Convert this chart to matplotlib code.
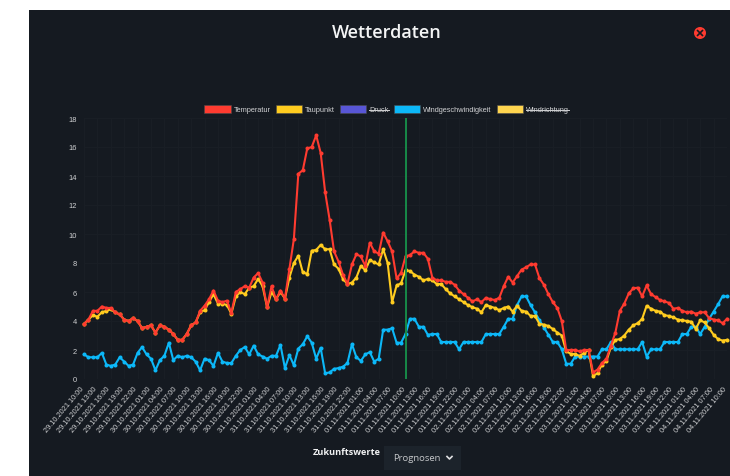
import matplotlib
matplotlib.use("Agg")
import matplotlib.pyplot as plt
from matplotlib.patches import Patch, Rectangle, Circle
from matplotlib.lines import Line2D
from matplotlib.transforms import ScaledTranslation
import pandas as pd

temperatur = [3.8,4.1,4.7,4.7,5.0,4.9,4.9,4.6,4.45,4.1,4.0,4.2,4.0,3.5,3.6,3.7,3.2,3.7,3.6,3.4,3.1,2.7,2.7,3.1,3.7,3.9,
 4.7,5.05,5.5,6.1,5.4,5.3,5.4,4.55,6.0,6.2,6.4,6.3,7.0,7.3,6.65,4.95,6.4,5.5,6.1,5.55,7.6,9.65,14.15,14.4,15.9,16.0,16.8,15.6,
 12.9,11.0,8.8,8.1,7.2,6.55,7.9,8.6,8.45,7.8,9.4,8.8,8.65,10.1,9.5,8.8,6.95,7.3,8.45,8.55,8.8,8.7,8.7,8.3,7.0,6.8,6.8,6.7,6.7,
 6.5,6.1,5.85,5.6,5.35,5.5,5.3,5.6,5.5,5.45,5.6,6.4,7.05,6.65,7.1,7.55,7.7,7.9,7.9,6.95,6.5,5.85,5.3,4.9,4.0,2.0,2.0,2.0,1.9,2.0,2.0,
 0.45,0.65,1.1,1.4,2.3,3.2,4.7,5.2,5.9,6.25,6.3,5.7,6.45,5.85,5.65,5.45,5.35,5.25,4.85,4.9,4.7,4.6,4.65,4.5,4.6,4.6,4.2,4.1,4.05,3.85,4.15]
taupunkt = [3.8,4.1,4.4,4.3,4.6,4.7,4.8,4.6,4.45,4.1,4.0,4.2,4.0,3.5,3.6,3.7,3.2,3.7,3.6,3.4,3.1,2.7,2.7,3.1,3.7,3.9,
 4.6,4.75,5.3,5.85,5.2,5.2,5.1,4.5,5.7,6.0,5.85,6.3,6.4,6.9,6.4,4.95,6.0,5.5,6.0,5.55,7.0,8.0,8.5,7.35,7.25,8.85,8.9,9.25,
 8.95,8.95,7.9,7.6,6.9,6.55,6.65,7.0,7.8,7.5,8.2,8.05,7.9,8.95,8.0,5.3,6.45,6.6,7.5,7.45,7.2,7.05,6.8,6.9,6.8,6.55,6.55,6.2,5.9,
 5.7,5.5,5.3,5.1,4.95,4.85,4.6,5.1,5.0,4.9,4.75,4.9,5.0,4.65,5.05,4.7,4.65,4.35,4.35,3.8,3.75,3.65,3.45,3.2,3.0,1.9,1.75,1.7,1.6,1.8,2.0,
 0.2,0.4,1.0,1.25,2.2,2.7,2.75,3.0,3.4,3.7,3.85,4.15,5.05,4.85,4.7,4.65,4.4,4.35,4.25,4.1,4.05,4.0,3.95,3.45,4.05,3.9,3.5,3.05,2.75,2.65,2.7]
windgeschwindigkeit = [1.7,1.5,1.5,1.5,1.8,1.0,0.9,1.0,1.5,1.2,0.9,1.0,1.8,2.2,1.7,1.4,0.6,1.3,1.6,2.5,1.3,1.6,1.5,1.6,1.5,1.2,
 0.6,1.4,1.3,0.9,1.8,1.2,1.1,1.1,1.6,2.0,2.2,1.7,2.3,1.7,1.55,1.4,1.6,1.6,2.35,0.75,1.65,0.95,2.1,2.4,2.95,2.5,1.4,2.15,
 0.4,0.45,0.7,0.75,0.85,1.1,2.4,1.5,1.25,1.7,1.85,1.2,1.4,3.4,3.4,3.5,2.5,2.5,3.1,4.15,4.15,3.6,3.6,3.05,3.1,3.1,2.55,2.55,2.55,
 2.55,2.05,2.55,2.55,2.55,2.55,2.55,3.1,3.1,3.1,3.1,3.6,4.15,4.15,5.1,5.7,5.7,5.1,4.6,4.05,3.55,3.05,2.55,2.55,2.05,1.05,1.05,1.55,1.55,1.55,1.55,
 1.55,1.55,2.05,2.05,2.55,2.05,2.05,2.05,2.05,2.05,2.05,2.55,1.55,2.05,2.05,2.05,2.55,2.55,2.55,2.55,3.1,3.1,3.6,3.6,3.1,3.6,4.15,4.65,5.15,5.7,5.7]
hours = list(range(len(temperatur)))
tick_hours = hours[::3]
tick_labels = list(pd.date_range("2021-10-29 10:00", periods=len(tick_hours), freq="3h").strftime("%d.%m.%Y %H:%M"))
y_ticks = list(range(0, 19, 2))
now_hour = 72
legend_labels = ["Temperatur", "Taupunkt", "Druck", "Windgeschwindigkeit", "Windrichtung"]
legend_colors = ["#ff3b30", "#ffcc1f", "#5856d6", "#0cb8f8", "#ffd54f"]
hidden = ["Druck", "Windrichtung"]

W, H = 730, 477
BG = "#151a21"
TXT = "#d0d1d3"
sans = ["Liberation Sans", "DejaVu Sans"]
fig = plt.figure(figsize=(W/100, H/100), dpi=100, facecolor="white")
def fx(x): return x/W
def fy(y): return 1-y/H
fig.patches.append(Rectangle((fx(29), 0), 1-fx(29), fy(11), transform=fig.transFigure, facecolor=BG, edgecolor="none", zorder=-5))

ax = fig.add_axes([fx(84), fy(380), (727-84)/W, (380-119)/H])
ax.set_facecolor("none")
ax.set_xlim(0, 144)
ax.set_ylim(0, 18)
ax.set_xticks(tick_hours)
ax.set_xticklabels(tick_labels, rotation=50, ha="right", va="center", rotation_mode="anchor", fontsize=5.3, color=TXT, family=sans)
ax.set_yticks(y_ticks)
ax.set_yticklabels([str(v) for v in y_ticks], fontsize=5.4, color=TXT, family=sans)
ax.tick_params(axis="both", length=0)
ax.tick_params(axis="x", pad=6)
ax.tick_params(axis="y", pad=5)
shift = ScaledTranslation(-1.5/100, 0, fig.dpi_scale_trans)
for lab in ax.get_xticklabels():
    lab.set_transform(lab.get_transform() + shift)
ax.grid(True, color="#1a1f26", linewidth=0.6)
ax.set_axisbelow(True)
for s in ax.spines.values():
    s.set_visible(False)

for vals, col, z in [(windgeschwindigkeit, legend_colors[3], 3), (taupunkt, legend_colors[1], 4), (temperatur, legend_colors[0], 5)]:
    ax.plot(hours, vals, color=col, lw=1.5, marker="o", ms=2.9, mew=0, zorder=z, clip_on=False)
ax.axvline(now_hour, color="#178a48", lw=1.4, zorder=6)

handles = [Patch(facecolor=c, edgecolor="#4a4a4a", linewidth=0.4) for c in legend_colors]
leg = fig.legend(handles, legend_labels, ncols=5, loc="center", bbox_to_anchor=(fx(386.5), fy(110)),
                 frameon=False, prop={"family": "Liberation Sans", "size": 5.3},
                 handlelength=3.55, handleheight=1.25, handletextpad=0.4, columnspacing=0.72, borderpad=0)
for t in leg.get_texts():
    t.set_color(TXT)
fig.canvas.draw()
inv = fig.transFigure.inverted()
for t in leg.get_texts():
    if t.get_text() in hidden:
        bb = t.get_window_extent().transformed(inv)
        ym = (bb.y0+bb.y1)/2
        fig.add_artist(Line2D([bb.x0, bb.x1], [ym, ym], color=TXT, lw=0.7, transform=fig.transFigure))

fig.text(fx(387), fy(33), "Wetterdaten", color="#f4f5f6", fontsize=13, family="Open Sans", fontweight="semibold", ha="center", va="center")
fig.add_artist(Circle((700, H-34), 6, transform=None, facecolor="#ff3b30", edgecolor="none"))
fig.add_artist(Line2D([697.6, 702.4], [H-31.6, H-36.4], transform=None, color=BG, lw=1.2))
fig.add_artist(Line2D([697.6, 702.4], [H-36.4, H-31.6], transform=None, color=BG, lw=1.2))

fig.text(fx(346.5), fy(453), "Zukunftswerte", color="#f0f1f2", fontsize=6.6, family="Open Sans", fontweight="bold", ha="center", va="center")
fig.patches.append(Rectangle((fx(384), fy(471)), 77/W, 24/H, transform=fig.transFigure, facecolor="#1c232b", edgecolor="none"))
fig.text(fx(417), fy(459), "Prognosen", color="#c5c7ca", fontsize=6.8, family="Open Sans", ha="center", va="center")
fig.add_artist(Line2D([447, 449.5, 452], [H-457.5, H-460, H-457.5], transform=None, color="#e0e1e3", lw=1.2))

fig.savefig("out.png", dpi=100, facecolor="white")
